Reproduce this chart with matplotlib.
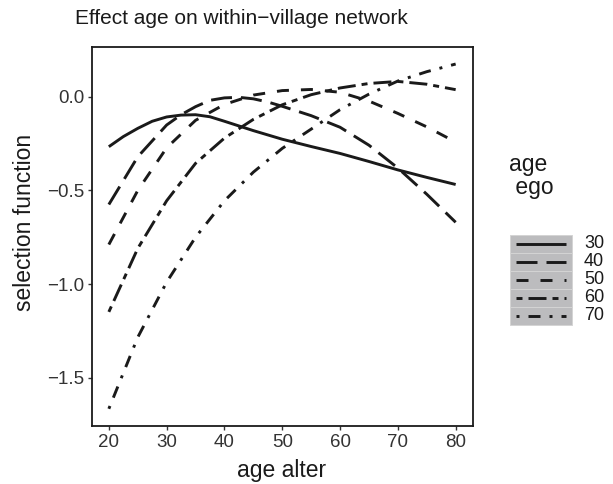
import matplotlib
matplotlib.use("Agg")
import matplotlib.pyplot as plt
from matplotlib.lines import Line2D
from matplotlib.patches import Rectangle

plt.rcParams['font.family'] = ['Liberation Sans', 'DejaVu Sans']
plt.rcParams['lines.scale_dashes'] = False

age_alter = [20, 25, 30, 35, 40, 45, 50, 55, 60, 65, 70, 75, 80]
age_alter_30 = [20, 22.5, 25, 27.5, 30, 32.5, 35, 37.5, 40, 45, 50, 55, 60, 65, 70, 75, 80]
ego30 = [-0.266, -0.212, -0.168, -0.130, -0.107, -0.097, -0.095, -0.106, -0.130, -0.180,
         -0.226, -0.265, -0.302, -0.345, -0.390, -0.430, -0.468]
age_alter_40 = [20, 25, 30, 32.5, 35, 37.5, 40, 42.5, 45, 47.5, 50, 55, 60, 65, 70, 75, 80]
ego40 = [-0.575, -0.320, -0.150, -0.095, -0.052, -0.018, -0.005, -0.002, -0.010, -0.027,
         -0.050, -0.100, -0.162, -0.258, -0.380, -0.520, -0.670]
ego50 = [-0.789, -0.500, -0.272, -0.125, -0.040, 0.010, 0.034, 0.040, 0.025, -0.022, -0.088, -0.160, -0.241]
ego60 = [-1.149, -0.810, -0.555, -0.355, -0.220, -0.120, -0.042, 0.012, 0.048, 0.072, 0.083, 0.068, 0.039]
ego70 = [-1.667, -1.285, -0.990, -0.750, -0.555, -0.402, -0.275, -0.172, -0.068, 0.015, 0.085, 0.135, 0.176]
ego_labels = ['30', '40', '50', '60', '70']
series = [(age_alter_30, ego30), (age_alter_40, ego40), (age_alter, ego50),
          (age_alter, ego60), (age_alter, ego70)]

x_ticks = [20, 30, 40, 50, 60, 70, 80]
y_ticks = [-1.5, -1.0, -0.5, 0.0]
y_ticklabels = ['\u22121.5', '\u22121.0', '\u22120.5', '0.0']

px = 0.72  # points per pixel at 100 dpi
dash_px = [None, (21, 9), (12, 12), (6, 6, 18, 6), (3, 9, 12, 9)]
line_color = '#1a1a1a'
lw = 2.1

W, H = 613, 484
fig = plt.figure(figsize=(W / 100, H / 100), dpi=100)
L, R, T, B = 91.5, 473, 47, 426
ax = fig.add_axes([L / W, 1 - B / H, (R - L) / W, (B - T) / H])

for (xs, vals), d in zip(series, dash_px):
    line, = ax.plot(xs, vals, color=line_color, lw=lw, solid_capstyle='butt',
                    dash_capstyle='butt', solid_joinstyle='round', dash_joinstyle='round')
    if d is not None:
        line.set_dashes([v * px for v in d])

ax.set_xlim(17, 83)
ax.set_ylim(-1.759, 0.267)
ax.set_xticks(x_ticks)
ax.set_xticklabels([str(v) for v in x_ticks])
ax.set_yticks(y_ticks)
ax.set_yticklabels(y_ticklabels)
ax.tick_params(axis='both', direction='out', length=3.0, width=1.0, color='#333333',
               labelsize=13.5, labelcolor='#333333')
ax.tick_params(axis='x', pad=2.5)
ax.tick_params(axis='y', pad=2.0)
for s in ax.spines.values():
    s.set_linewidth(1.3)
    s.set_color('#1a1a1a')

fig.text(241 / W, 1 - 18 / H, 'Effect age on within\u2212village network', ha='center',
         va='center', fontsize=15, color='#1a1a1a')
fig.text(282 / W, 1 - 470 / H, 'age alter', ha='center', va='center', fontsize=16.5,
         color='#1a1a1a')
fig.text(25 / W, 1 - 222 / H, 'selection function', ha='center', va='center',
         rotation=90, fontsize=16.5, color='#1a1a1a')

# legend
fig.text(509 / W, 1 - 176 / H, 'age\n ego', ha='left', va='center', fontsize=16.5,
         color='#1a1a1a', linespacing=1.05)
kx0, kx1, ky0, kh = 510, 572, 235, 18
lax = fig.add_axes([0, 0, 1, 1], facecolor='none')
lax.set_xlim(0, W)
lax.set_ylim(H, 0)
lax.axis('off')
for i, (lab, d) in enumerate(zip(ego_labels, dash_px)):
    y0 = ky0 + i * kh
    lax.add_patch(Rectangle((kx0, y0), kx1 - kx0, kh, facecolor='#bcbcbe',
                            edgecolor='#d4d4d4', lw=0.7))
    ln = Line2D([516, 566], [y0 + kh / 2] * 2, color=line_color, lw=lw,
                solid_capstyle='butt', dash_capstyle='butt')
    if d is not None:
        ln.set_dashes([v * px for v in d])
    lax.add_line(ln)
    lax.text(584, y0 + kh / 2, lab, ha='left', va='center', fontsize=13,
             color='#1a1a1a')

fig.savefig('out.png', dpi=100)
